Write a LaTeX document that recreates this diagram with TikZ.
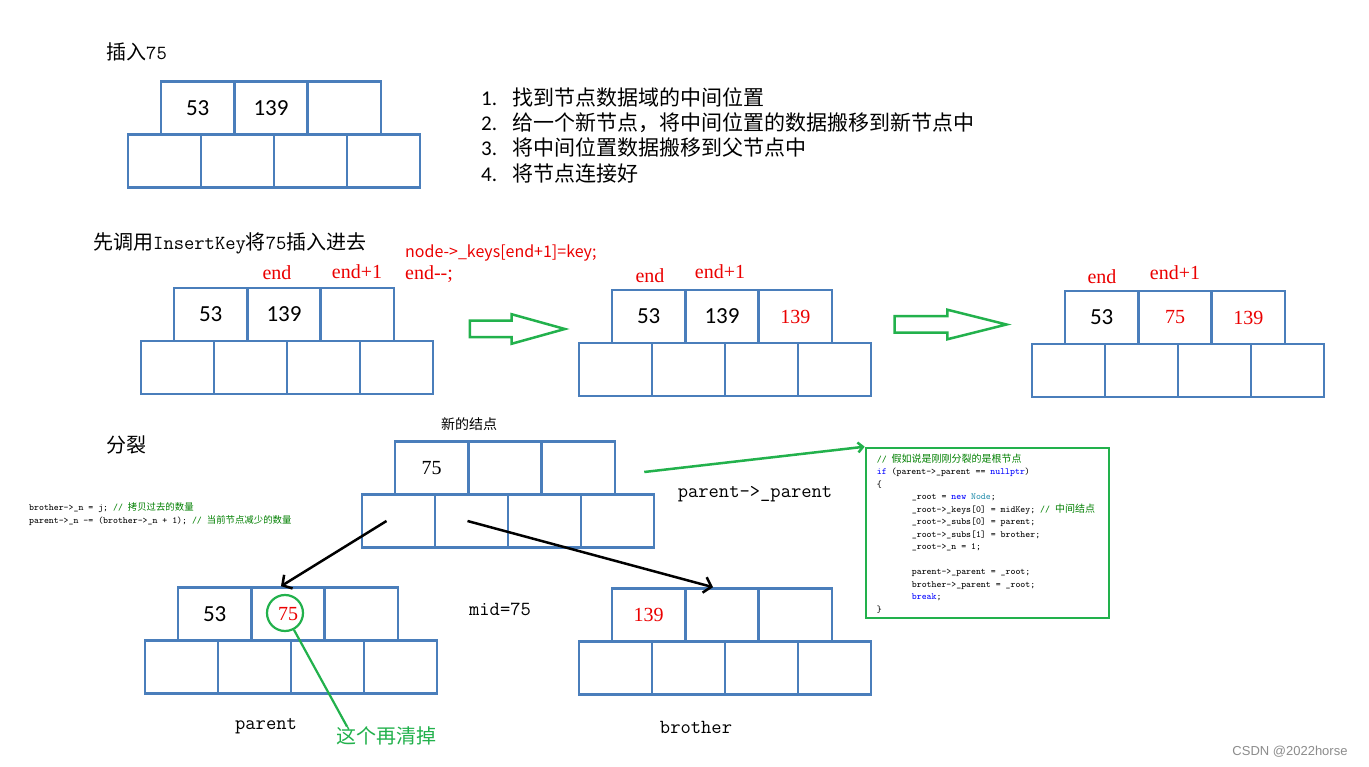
\documentclass[tikz,border=0pt]{standalone}
\usepackage{fontspec}
\setmainfont{Liberation Serif}
\newfontfamily\zhfont{Noto Sans CJK SC}
\newfontfamily\keyfont{Carlito}
\newfontfamily\markfont{Liberation Sans}
\usetikzlibrary{shapes.arrows, arrows.meta, positioning, calc}

\definecolor{cellblue}{RGB}{74,126,187}
\definecolor{hintgreen}{RGB}{34,177,76}
\definecolor{markred}{RGB}{235,0,0}
\definecolor{cmtgreen}{RGB}{0,128,0}
\definecolor{kwblue}{RGB}{0,0,255}
\definecolor{typeteal}{RGB}{43,145,175}

% key texts
\newcommand{\sanskey}[1]{{\keyfont\fontsize{23}{26}\selectfont #1}}
\newcommand{\serifkey}[1]{{\fontsize{20}{24}\selectfont #1}}
\newcommand{\redkey}[1]{{\color{markred}\fontsize{20}{24}\selectfont #1}}

% one b-tree node: name, centre of first key cell, three keys
\newcommand{\btreenode}[6]{%
  \node[key_cell] (#1k1) at (#2,#3) {#4};
  \node[key_cell] (#1k2) at ({#2+73.3},#3) {#5};
  \node[key_cell] (#1k3) at ({#2+146.6},#3) {#6};
  \foreach \j in {1,...,4}
    \node[sub_cell] (#1s\j) at ({#2-33.2+(\j-1)*73},{#3+53}) {};
}

\begin{document}
\begin{tikzpicture}[
        x=1pt, y=-1pt,
        % Styles
        key_cell/.style={draw=cellblue, line width=2.6pt, minimum width=73.3pt, minimum height=53pt, inner sep=0pt},
        sub_cell/.style={draw=cellblue, line width=2.6pt, minimum width=73pt, minimum height=53pt, inner sep=0pt},
        zh_label/.style={font=\zhfont\fontsize{#1}{#1}\selectfont, inner sep=0pt},
        zh_label/.default=20,
        mono_label/.style={font=\ttfamily\fontsize{20}{20}\selectfont, inner sep=0pt},
        end_label/.style={text=markred, font=\fontsize{20}{20}\selectfont, inner sep=0pt},
        code_text/.style={font=\ttfamily\fontsize{9.4}{12.5}\selectfont, align=left, inner sep=0pt},
        hollow_arrow/.style={single arrow, draw=hintgreen, line width=2.5pt, inner xsep=0pt, inner ysep=7pt, single arrow head extend=6.5pt, single arrow tip angle=#1},
        black_arrow/.style={-{Straight Barb[length=7pt, width=16pt]}, line width=2.5pt, black}
    ]

    \path[use as bounding box, fill=white] (0,0) rectangle (1369,767);

    % Step 1: node before insertion
    \node[zh_label=20, anchor=west] (title_insert) at (106,52) {插入\texttt{75}};
    \btreenode{first}{197.7}{108}{\sanskey{53}}{\sanskey{139}}{}

    \foreach \t [count=\i] in {找到节点数据域的中间位置, 给一个新节点，将中间位置的数据搬移到新节点中, 将中间位置数据搬移到父节点中, 将节点连接好}
        \node[zh_label=21, anchor=west] (step\i) at (481,{97+(\i-1)*25.4}) {\makebox[31pt][l]{\keyfont\i.}\t};

    % Step 2: InsertKey
    \node[zh_label=20, anchor=west] (title_key) at (93,243) {先调用\texttt{InsertKey}将\texttt{75}插入进去};
    \node[zh_label=16, anchor=west, text=markred] (shift_code) at (405,253) {node->\_keys[end+1]=key;};
    \node[end_label, anchor=west] (shift_dec) at (405,274) {end-{}-;};

    \btreenode{before}{210.7}{314.5}{\sanskey{53}}{\sanskey{139}}{}
    \node[end_label] (before_end) at (277,273) {end};
    \node[end_label] (before_next) at (357,272) {end+1};

    \node[hollow_arrow=31, minimum height=95pt] (move_a) at (502.5,329) {};

    \btreenode{moved}{648.7}{316.5}{\sanskey{53}}{\sanskey{139}}{\redkey{139}}
    \node[end_label] (moved_end) at (650,276) {end};
    \node[end_label] (moved_next) at (720,272) {end+1};

    \node[hollow_arrow=28, minimum height=112pt] (move_b) at (934,324.5) {};

    \btreenode{placed}{1101.7}{317.5}{\sanskey{53}}{\redkey{75}}{\redkey{139}}
    \node[end_label] (placed_end) at (1102,277) {end};
    \node[end_label] (placed_next) at (1175,273) {end+1};

    % Step 3: split
    \node[zh_label, anchor=west] (title_split) at (106,445) {分裂};
    \node[zh_label=14] (new_title) at (469,424) {新的结点};
    \btreenode{new}{431.7}{468}{\serifkey{75}}{}{}

    \node[code_text, anchor=west] (count_code) at (29,514) {brother->\_n = j; \textcolor{cmtgreen}{// {\zhfont 拷贝过去的数量}}\\
        parent->\_n -= (brother->\_n + 1); \textcolor{cmtgreen}{// {\zhfont 当前节点减少的数量}}};

    \btreenode{parent}{214.7}{614}{\sanskey{53}}{\redkey{75}}{}
    \btreenode{brother}{648.7}{615}{\redkey{139}}{}{}

    \node[mono_label] (parent_title) at (266,726) {parent};
    \node[mono_label] (brother_title) at (696,727) {brother};
    \node[mono_label] (mid_note) at (500,609) {mid=75};
    \node[mono_label] (link_note) at (755,494) {parent->\_parent};

    \draw[black_arrow] ([xshift=-12pt]news1.center) -- ([xshift=-7pt]parentk2.north);
    \draw[black_arrow] ([xshift=-4pt]news2.center) -- ([xshift=-9pt]brotherk2.north);

    % mark the moved key
    \node[circle, draw=hintgreen, line width=2.2pt, minimum size=36pt, inner sep=0pt] (clear_mark) at (285,613) {};
    \node[zh_label, text=hintgreen] (clear_note) at (386,736) {这个再清掉};
    \draw[hintgreen, line width=2.2pt] (clear_mark.-62) -- ([xshift=-39pt]clear_note.north);

    % root code
    \node[draw=hintgreen, line width=2.6pt, minimum width=243pt, minimum height=170pt, inner sep=0pt] (code_box) at (987.5,533) {};
    \node[code_text, anchor=north west] (root_code) at ([xshift=12pt,yshift=-7pt]code_box.north west) {%
        \textcolor{cmtgreen}{// {\zhfont\fontsize{10}{12.5}\selectfont 假如说是刚刚分裂的是根节点}}\\
        \textcolor{kwblue}{if} (parent->\_parent == \textcolor{kwblue}{nullptr})\\
        \{\\
        \hspace*{35pt}\_root = \textcolor{kwblue}{new} \textcolor{typeteal}{Node};\\
        \hspace*{35pt}\_root->\_keys[0] = midKey; \textcolor{cmtgreen}{// {\zhfont\fontsize{10}{12.5}\selectfont 中间结点}}\\
        \hspace*{35pt}\_root->\_subs[0] = parent;\\
        \hspace*{35pt}\_root->\_subs[1] = brother;\\
        \hspace*{35pt}\_root->\_n = 1;\\
        \strut\\
        \hspace*{35pt}parent->\_parent = \_root;\\
        \hspace*{35pt}brother->\_parent = \_root;\\
        \hspace*{35pt}\textcolor{kwblue}{break};\\
        \}};

    \draw[hintgreen, line width=2.5pt, -{Straight Barb[length=5pt, width=10pt]}] ([xshift=28pt,yshift=-4pt]newk3.east) -- (code_box.north west);

    \node[font=\markfont\fontsize{13}{13}\selectfont, text=black!45] (mark) at (1290,752) {CSDN @2022horse};

\end{tikzpicture}
\end{document}
